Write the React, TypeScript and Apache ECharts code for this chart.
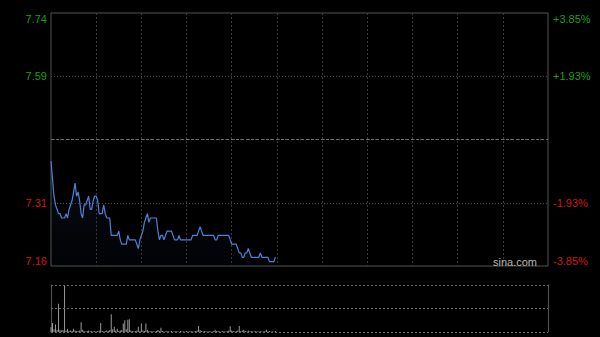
import React, { useEffect, useRef } from "react";
import * as echarts from "echarts";

// Minute index (0 = 09:30), HK session 330 minutes
const TOTAL_MINUTES = 330;
const PREV_CLOSE = 7.45;
const PRICE_MIN = 7.16;
const PRICE_MAX = 7.74;

const prices: number[] = [
  7.40, 7.36, 7.32, 7.30, 7.29, 7.28, 7.28, 7.27, 7.27, 7.27,
  7.28, 7.27, 7.29, 7.30, 7.31, 7.33, 7.35, 7.32, 7.33, 7.31,
  7.28, 7.27, 7.30, 7.30, 7.31, 7.32, 7.29, 7.29, 7.31, 7.32,
  7.32, 7.31, 7.28, 7.28, 7.28, 7.30, 7.28, 7.27, 7.27, 7.27,
  7.23, 7.23, 7.23, 7.23, 7.23, 7.24, 7.22, 7.21, 7.21, 7.21,
  7.21, 7.23, 7.22, 7.22, 7.22, 7.22, 7.22, 7.21, 7.20, 7.22,
  7.23, 7.24, 7.26, 7.27, 7.28, 7.26, 7.27, 7.27, 7.27, 7.27,
  7.27, 7.24, 7.22, 7.23, 7.23, 7.22, 7.23, 7.24, 7.24, 7.24,
  7.24, 7.23, 7.22, 7.22, 7.22, 7.23, 7.22, 7.22, 7.22, 7.22,
  7.22, 7.22, 7.22, 7.22, 7.23, 7.23, 7.23, 7.23, 7.24, 7.25,
  7.24, 7.23, 7.23, 7.23, 7.23, 7.23, 7.23, 7.23, 7.23, 7.22,
  7.22, 7.23, 7.23, 7.23, 7.23, 7.23, 7.23, 7.23, 7.23, 7.22,
  7.21, 7.21, 7.21, 7.21, 7.20, 7.19, 7.19, 7.18, 7.18, 7.19,
  7.19, 7.20, 7.19, 7.18, 7.18, 7.18, 7.18, 7.18, 7.18, 7.19,
  7.18, 7.18, 7.18, 7.18, 7.18, 7.17, 7.17, 7.17, 7.17, 7.18,
];

const volumes: number[] = [
  10, 19, 6, 16, 4, 60, 5, 3, 4, 100,
  3, 7, 2, 3, 2, 7, 3, 2, 2, 3,
  21, 5, 2, 1, 2, 3, 1, 2, 1, 2,
  1, 2, 3, 19, 2, 1, 2, 3, 2, 4,
  38, 6, 11, 3, 7, 2, 3, 4, 18, 25,
  6, 26, 27, 3, 2, 1, 2, 3, 11, 2,
  18, 3, 2, 18, 4, 2, 1, 2, 1, 1,
  2, 4, 2, 9, 2, 1, 1, 2, 1, 1,
  2, 1, 1, 2, 1, 1, 2, 1, 1, 1,
  2, 1, 1, 2, 1, 1, 2, 3, 13, 4,
  2, 1, 2, 1, 1, 2, 1, 1, 2, 5,
  2, 2, 1, 1, 2, 1, 1, 2, 3, 12,
  3, 2, 1, 2, 3, 13, 2, 3, 5, 2,
  1, 3, 1, 2, 1, 1, 2, 1, 1, 2,
  1, 1, 2, 5, 1, 2, 1, 1, 1, 2,
];

const leftLabels: string[] = ["7.16", "7.31", "", "7.59", "7.74"];
const rightLabels: string[] = ["-3.85%", "-1.93%", "", "+1.93%", "+3.85%"];
const volLevels: number[] = [0, 50, 100];

const GREEN = "#1c9e1c";
const RED = "#cf1818";
const FONT = "'Liberation Sans', Arial, sans-serif";

export default function App() {
  const ref = useRef<HTMLDivElement>(null);

  useEffect(() => {
    document.body.style.margin = "0";
    document.body.style.background = "#000";
    if (!ref.current) return;
    const chart = echarts.init(ref.current, undefined, { renderer: "svg" });

    const volMax = Math.max(...volumes);
    const labelColor = (v: number) => (v > 2 ? GREEN : v < 2 ? RED : "#888");

    chart.setOption({
      animation: false,
      backgroundColor: "#000",
      grid: [
        { left: 51, top: 13, right: 52, height: 253, show: true, borderColor: "#555", borderWidth: 1, backgroundColor: "transparent" },
        { left: 51, top: 285, right: 52, height: 47, show: false },
      ],
      xAxis: [
        {
          gridIndex: 0, type: "value", min: 0, max: TOTAL_MINUTES, interval: 30,
          axisLine: { show: false }, axisTick: { show: false }, axisLabel: { show: false },
          splitLine: { show: true, showMinLine: false, showMaxLine: false, lineStyle: { color: "#3a3a3a", type: [2, 2], width: 1 } },
        },
        {
          gridIndex: 1, type: "value", min: 0, max: TOTAL_MINUTES, interval: 30,
          axisLine: { show: false }, axisTick: { show: false }, axisLabel: { show: false },
          splitLine: { show: false },
        },
      ],
      yAxis: [
        { gridIndex: 0, type: "value", min: PRICE_MIN, max: PRICE_MAX, show: false },
        {
          gridIndex: 0, type: "value", min: 0, max: 4, interval: 1, position: "left",
          axisLine: { show: false }, axisTick: { show: false },
          axisLabel: {
            show: true, margin: 4, fontSize: 11, fontFamily: FONT,
            formatter: (v: number) => leftLabels[Math.round(v)] ?? "",
            color: (v: any) => labelColor(Number(v)),
            verticalAlignMinLabel: "bottom", verticalAlignMaxLabel: "top",
          },
          splitLine: { show: true, showMinLine: false, showMaxLine: false, lineStyle: { color: "#4a4a4a", type: [1, 2], width: 1 } },
        },
        {
          gridIndex: 0, type: "value", min: 0, max: 4, interval: 1, position: "right",
          axisLine: { show: false }, axisTick: { show: false },
          axisLabel: {
            show: true, margin: 5, fontSize: 11, fontFamily: FONT,
            formatter: (v: number) => rightLabels[Math.round(v)] ?? "",
            color: (v: any) => labelColor(Number(v)),
            verticalAlignMinLabel: "bottom", verticalAlignMaxLabel: "top",
          },
          splitLine: { show: false },
        },
        {
          gridIndex: 1, type: "value", min: 0, max: volMax, position: "left",
          axisLine: { show: true, lineStyle: { color: "#555", width: 1 } }, axisTick: { show: false }, axisLabel: { show: false },
          splitLine: { show: false },
        },
        {
          gridIndex: 1, type: "value", min: 0, max: volMax, position: "right",
          axisLine: { show: true, lineStyle: { color: "#555", width: 1 } }, axisTick: { show: false }, axisLabel: { show: false },
          splitLine: { show: false },
        },
      ],
      series: [
        {
          type: "line",
          xAxisIndex: 0, yAxisIndex: 0,
          data: prices.map((p, i) => [i, p]),
          showSymbol: false,
          symbol: "none",
          lineStyle: { color: "#4b82d6", width: 1.2 },
          areaStyle: {
            origin: "start",
            color: new echarts.graphic.LinearGradient(0, 0, 0, 1, [
              { offset: 0, color: "rgba(40,70,120,0.28)" },
              { offset: 1, color: "rgba(20,30,60,0.12)" },
            ]),
          },
          markLine: {
            silent: true, symbol: "none", label: { show: false },
            lineStyle: { color: "#6e6e6e", type: [3, 2], width: 1 },
            data: [{ yAxis: PREV_CLOSE }],
          },
          z: 3,
        },
        {
          type: "bar",
          xAxisIndex: 1, yAxisIndex: 3,
          data: volumes.map((v, i) => [i, v]),
          barWidth: 1,
          itemStyle: { color: "#999999" },
          markLine: {
            silent: true, symbol: "none", label: { show: false },
            lineStyle: { color: "#6a6a6a", type: [2, 2], width: 1 },
            data: volLevels.map((v) => ({ yAxis: (v / 100) * volMax })),
          },
          z: 2,
        },
      ],
      graphic: [
        {
          type: "text", right: 63, top: 256,
          style: { text: "sina.com", fill: "#b5b5b5", font: `11px ${FONT}` },
          z: 10,
        },
      ],
    });

    return () => chart.dispose();
  }, []);

  return <div ref={ref} style={{ width: 600, height: 337, background: "#000" }} />;
}
